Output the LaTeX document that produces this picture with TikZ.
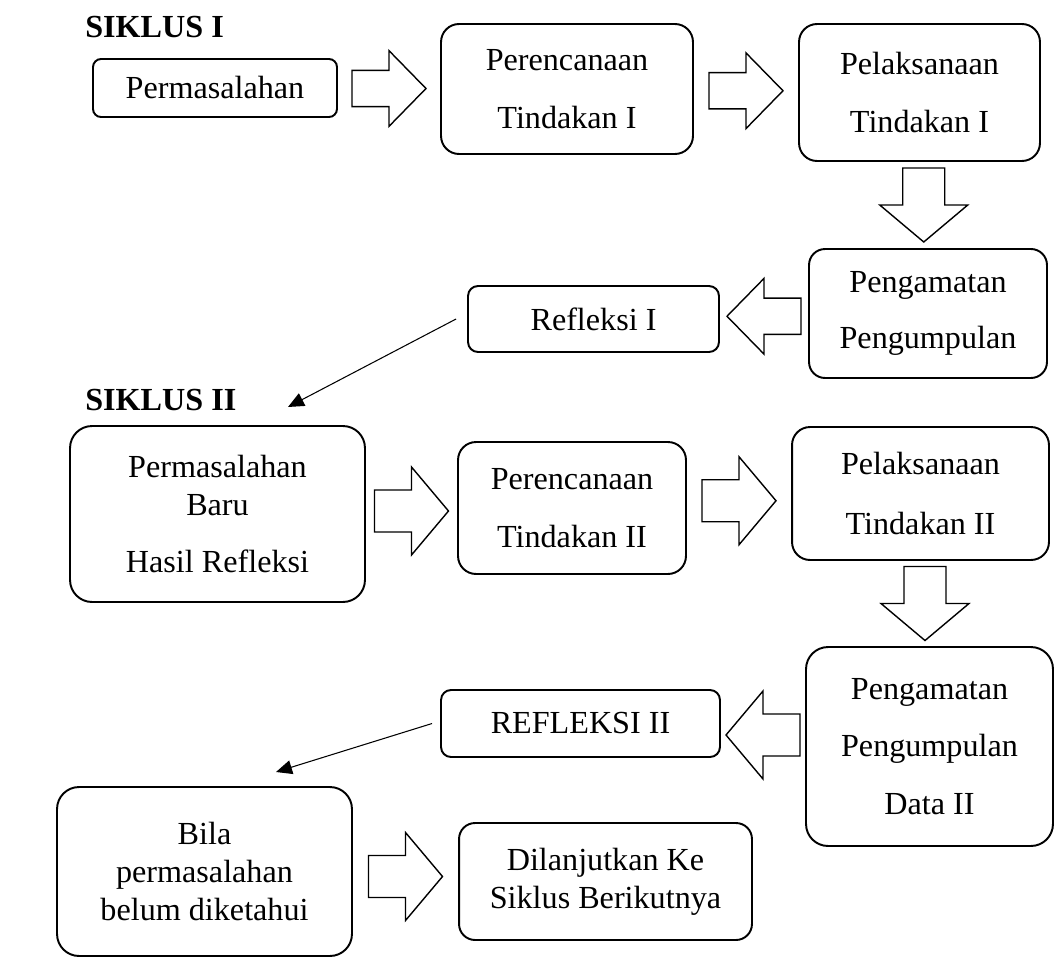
\documentclass[tikz,border=0pt]{standalone}
\usepackage{fontspec}
\setmainfont{Liberation Serif}
\usetikzlibrary{calc, positioning}
\usetikzlibrary{arrows.meta}
\def\lw{0.6pt}
\tikzset{
    box/.style = {
        draw, line width=1.1pt, align=center, inner sep=0pt
    },
    pics/Block/.style={
        code = {
            \draw[line width=0.8pt] (-37,-21) -- (0,-21) -- (0,-44) -- (37,0) -- (0,44) -- (0,21) -- (-37,21) -- cycle;
    }}
    }

\begin{document}
\begin{tikzpicture}[x=0.02cm, y=-0.02cm, every node/.style={font=\fontsize{18.3}{21.5}\selectfont}]
        \useasboundingbox (0,0) rectangle (1055,957);
        % siklus I
        \node[anchor=west, inner sep=0pt, font=\fontsize{18.3}{21.5}\selectfont\bfseries] (s1) at (85,27) {SIKLUS I};
        \node[box, rounded corners=0.16cm, minimum width=4.88cm, minimum height=1.16cm] (perm) at (215,88) {Permasalahan};
        \node[box, rounded corners=0.36cm, minimum width=5.04cm, minimum height=2.6cm] (ren1) at (567,89) {Perencanaan\\[0.4cm]Tindakan I};
        \node[box, rounded corners=0.36cm, minimum width=4.82cm, minimum height=2.74cm] (pel1) at (919.5,92.5) {Pelaksanaan\\[0.4cm]Tindakan I};
        \node[box, rounded corners=0.32cm, minimum width=4.76cm, minimum height=2.58cm] (peng1) at (928,313.5) {Pengamatan\\[0.38cm]Pengumpulan};
        \node[box, rounded corners=0.2cm, minimum width=5.02cm, minimum height=1.32cm] (ref1) at (593.5,319) {Refleksi I};
        % siklus II
        \node[anchor=west, inner sep=0pt, font=\fontsize{18.3}{21.5}\selectfont\bfseries] (s2) at (85,400) {SIKLUS II};
        \node[box, rounded corners=0.44cm, minimum width=5.9cm, minimum height=3.52cm] (pbaru) at (217.5,514) {Permasalahan\\Baru\\[0.38cm]Hasil Refleksi};
        \node[box, rounded corners=0.36cm, minimum width=4.56cm, minimum height=2.64cm] (ren2) at (572,508) {Perencanaan\\[0.4cm]Tindakan II};
        \node[box, rounded corners=0.36cm, minimum width=5.14cm, minimum height=2.66cm] (pel2) at (920.5,493.5) {Pelaksanaan\\[0.45cm]Tindakan II};
        \node[box, rounded corners=0.44cm, minimum width=4.94cm, minimum height=3.98cm] (peng2) at (929.5,746.5) {Pengamatan\\[0.4cm]Pengumpulan\\[0.4cm]Data II};
        \node[box, rounded corners=0.2cm, minimum width=5.58cm, minimum height=1.34cm] (ref2) at (580.5,723.5) {REFLEKSI II};
        \node[box, rounded corners=0.44cm, minimum width=5.9cm, minimum height=3.38cm] (bila) at (204.5,871.5) {Bila\\permasalahan\\belum diketahui};
        \node[box, rounded corners=0.32cm, minimum width=5.86cm, minimum height=2.34cm] (lanjut) at (605.5,881.5) {Dilanjutkan Ke\\Siklus Berikutnya};
        \coordinate (t2) at (288,407);
        \coordinate (t3) at (276,772);
        % block arrows
        \draw ($(perm.east)!0.5!(ren1.west)$) pic[yscale=0.86] {Block};
        \draw ($(ren1.east)!0.5!(pel1.west)$) pic[yscale=0.86] {Block};
        \draw ($(pel1.south)!0.5!(peng1.north)$) pic[rotate=-90] {Block};
        \draw ($(peng1.west)!0.5!(ref1.east)$) pic[rotate=180, yscale=0.86] {Block};
        \draw ($(pbaru.east)!0.5!(ren2.west)$) pic {Block};
        \draw ($(ren2.east)!0.5!(pel2.west)$) pic {Block};
        \draw ($(pel2.south)!0.5!(peng2.north)$) pic[rotate=-90] {Block};
        \draw ($(peng2.west)!0.5!(ref2.east)$) pic[rotate=180] {Block};
        \draw ($(bila.east)!0.5!(lanjut.west)$) pic {Block};
        \begin{scope}[line width = \lw, >={Triangle[width=0.28cm,length=0.32cm]}, ->]
            \draw ([xshift=-0.22cm] ref1.west) -- (t2);
            \draw ([xshift=-0.16cm] ref2.west) -- (t3);
        \end{scope}
    \end{tikzpicture}
\end{document}
